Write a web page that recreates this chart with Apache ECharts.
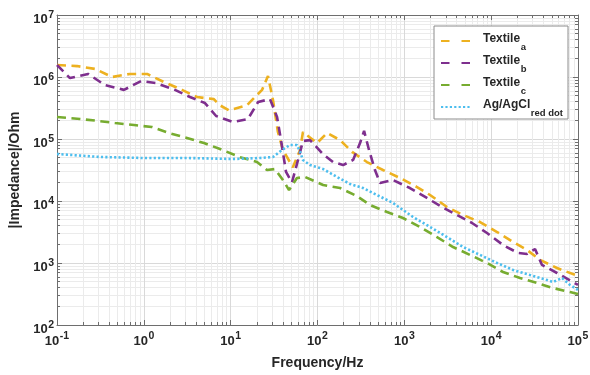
<!DOCTYPE html>
<html><head><meta charset="utf-8">
<script src="https://cdn.jsdelivr.net/npm/echarts@6/dist/echarts.min.js"></script>
<style>html,body{margin:0;padding:0;background:#fff}#c{width:590px;height:375px}</style>
</head><body><div id="c"></div>
<script>
// ---- data ----
const freqA=[0.1,0.17,0.274,0.43,0.69,1.09,1.71,2.75,4.1,6.4,7.5,9.6,15.4,23,26.9,30.7,35,40,52,63,68,98.7,129,182,250,371,568,891,1400,1977,3100,4750,7450,11700,17900,25900,36500,57300,100000];
const zA=[1.56e6,1.5e6,1.35e6,1.0e6,1.12e6,1.12e6,8.3e5,6.2e5,4.75e5,4.4e5,3.5e5,2.9e5,3.5e5,6.2e5,1.04e6,4.26e5,1.3e5,6.65e4,3.5e4,6.65e4,1.3e5,8.6e4,1.25e5,9.6e4,6.2e4,4.25e4,3.16e4,2.35e4,1.68e4,1.25e4,8000,5940,4580,3160,2180,1620,1120,830,617];
const freqB=[0.1,0.141,0.228,0.357,0.59,0.93,1.38,2.28,3.4,5.06,6.8,10.6,15.8,20.7,28.4,34.2,38,43.4,50.8,59.7,68,82,116,151,197,257,309,344,392,459,525,741,1160,1820,2715,4040,6020,8960,13700,20400,25900,32000,38500,57300,100000];
const zB=[1.56e6,9.6e5,1.12e6,7.4e5,6.2e5,8.6e5,8.0e5,6.2e5,4.75e5,3.8e5,2.35e5,1.88e5,2.1e5,3.95e5,4.4e5,2.26e5,9.6e4,2.94e4,2.0e4,4.6e4,9.3e4,9.6e4,5.7e4,4.25e4,3.8e4,4.6e4,8.6e4,1.35e5,6.65e4,3.16e4,1.95e4,2.18e4,1.62e4,1.12e4,8000,5940,4420,3050,1950,1450,1400,1680,930,690,442];
const freqC=[0.1,0.184,0.305,0.466,0.77,1.24,1.95,3.14,4.93,7.54,12.8,20.1,26.2,32.4,40,47,58,71.8,116,182,285,403,632,966,1520,2380,3640,5710,8960,13700,21500,33700,51500,80900,100000];
const zC=[2.26e5,2.1e5,1.95e5,1.81e5,1.68e5,1.56e5,1.25e5,1.04e5,8.6e4,6.9e4,5.1e4,4.25e4,3.16e4,3.28e4,2.18e4,1.5e4,2.35e4,2.44e4,1.81e4,1.62e4,1.2e4,8600,6650,5320,3810,2620,1810,1350,1000,716,573,475,395,340,316];
const freqD=[0.1,0.313,0.98,3.14,10.6,21.8,30.8,39,48.2,58,63,68,82,116,168,237,334,484,741,1260,1977,3100,4750,7450,11700,17900,28000,44000,51500,65500,81000,100000];
const zD=[5.73e4,5.13e4,4.94e4,4.94e4,4.76e4,4.94e4,5.13e4,6.65e4,8.0e4,8.0e4,6.2e4,4.58e4,3.8e4,3.28e4,2.44e4,1.88e4,1.62e4,1.25e4,9290,5520,3810,2620,1810,1350,1000,771,640,532,494,573,442,367];
const seriesNames=['Textile a','Textile b','Textile c','Ag/AgCl red dot'];
const legendMain=['Textile','Textile','Textile','Ag/AgCl'];
const legendSub=['a','b','c','red dot'];
const xMin=0.1, xMax=1e5, yMin=1e2, yMax=1e7;
const xTitle='Frequency/Hz', yTitle='|Impedance|/Ohm';

// ---- helpers ----
const pairs=(f,z)=>f.map((v,i)=>[v,z[i]]);
const FONT='Liberation Sans, Arial, sans-serif';
const TXT='#262626', AX='#6e6e6e';
const expOf=v=>Math.round(Math.log10(v));
const xFmt=v=>'{b|10}{e|'+expOf(v)+'}';
const yFmt=v=>'{g| }\n{b|10}{e|'+expOf(v)+'}';
const tickRich={b:{fontSize:13,fontWeight:'bold',fontFamily:FONT,color:TXT,lineHeight:22},
             e:{fontSize:10.5,fontWeight:'bold',fontFamily:FONT,color:TXT,lineHeight:22,padding:[0,0,9,0.5]},
             g:{fontSize:2,lineHeight:9}};
const minorT={show:true,splitNumber:9,length:3,lineStyle:{color:AX}};
const baseAxis={type:'log',logBase:10,axisLine:{show:true,lineStyle:{color:AX,width:1}},
  axisTick:{show:true,inside:true,length:5,lineStyle:{color:AX}},minorTick:minorT,
  splitLine:{show:false},axisLabel:{show:false}};
const gridMajor={show:true,lineStyle:{color:'#d9d9d9',width:1}};
const gridMinor={show:true,lineStyle:{color:'#ebebeb',width:1}};

const colors=['#EDB120','#7E2F8E','#77AC30','#4DBEEE'];
const dataSets=[pairs(freqA,zA),pairs(freqB,zB),pairs(freqC,zC),pairs(freqD,zD)];

const chart=echarts.init(document.getElementById('c'),null,{renderer:'canvas'});
const series=dataSets.map((d,i)=>({name:seriesNames[i],type:'line',data:d,showSymbol:false,symbol:'none',
    animation:false,z:3+i,
    lineStyle:{color:colors[i],width:2.6,type:i===3?[2.2,2.2]:[9,5.5],cap:'butt'},
    itemStyle:{color:colors[i]}}));
chart.setOption({
  animation:false,
  grid:{left:57,right:12,top:15,bottom:50,containLabel:false,outerBoundsMode:'none'},
  legend:{data:seriesNames.map((n,i)=>({name:n,lineStyle:{type:i===3?[2.2,2.2]:[8.5,12]}})),
    orient:'vertical',left:434,top:26,padding:[4,5,1,6],itemGap:0,
    itemWidth:30,itemHeight:19,backgroundColor:'#fff',borderColor:'#8c8c8c',borderWidth:1,
    itemStyle:{opacity:0},
    formatter:n=>{const i=seriesNames.indexOf(n);return '{m|'+legendMain[i]+'}{s|'+legendSub[i]+'}';},
    textStyle:{padding:[0,0,0,7],rich:{
      m:{fontSize:12,fontWeight:'bold',fontFamily:FONT,color:TXT,lineHeight:19,padding:[0,0,4,0]},
      s:{fontSize:9.5,fontWeight:'bold',fontFamily:FONT,color:TXT,lineHeight:19,padding:[12,0,0,0.5]}}}
  },
  xAxis:[Object.assign({},baseAxis,{position:'bottom',min:xMin,max:xMax,
      name:xTitle,nameLocation:'middle',nameGap:31,
      nameTextStyle:{fontSize:14,fontWeight:'bold',fontFamily:FONT,color:TXT},
      axisLabel:{show:true,margin:5,formatter:xFmt,rich:tickRich},
      splitLine:gridMajor,minorSplitLine:gridMinor}),
    Object.assign({},baseAxis,{position:'top',min:xMin,max:xMax})],
  yAxis:[Object.assign({},baseAxis,{position:'left',min:yMin,max:yMax,
      name:yTitle,nameLocation:'middle',nameGap:35,
      nameTextStyle:{fontSize:14,fontWeight:'bold',fontFamily:FONT,color:TXT},
      axisLabel:{show:true,margin:3,formatter:yFmt,rich:tickRich},
      splitLine:gridMajor,minorSplitLine:gridMinor}),
    Object.assign({},baseAxis,{position:'right',min:yMin,max:yMax})],
  series:series
});
</script></body></html>
